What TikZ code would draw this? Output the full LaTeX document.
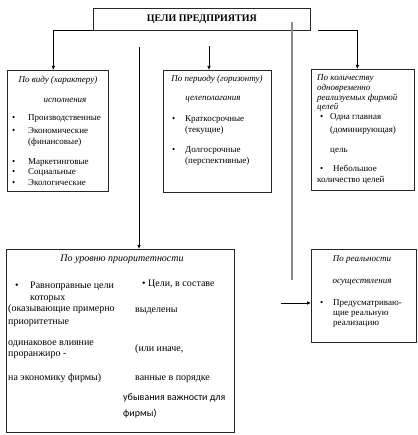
\documentclass[tikz,border=0pt]{standalone}
\usepackage{fontspec}
\setmainfont{Liberation Serif}
\setsansfont{Carlito}
\usetikzlibrary{arrows.meta}

\newcommand{\itembul}[1]{\makebox[#1pt][l]{\textbullet}}

\begin{document}
\begin{tikzpicture}[
    x=1pt, y=-1pt,
    box/.style={
        rectangle, draw=black!85, line width=0.7pt,
        anchor=north west, inner sep=0pt
    },
    head/.style={font=\fontsize{9}{11}\selectfont\itshape, anchor=base, inner sep=0pt},
    txt/.style={font=\fontsize{9}{11}\selectfont, anchor=base west, inner sep=0pt},
    big/.style={font=\fontsize{10}{12}\selectfont, anchor=base west, inner sep=0pt},
    arrow/.style={-{Latex[length=4pt,width=3.5pt]}, line width=0.7pt},
    grayline/.style={draw=black!45, line width=1.4pt}
]
\useasboundingbox (0,0) rectangle (417,435);

% ── Title ──
\node[box, minimum width=217pt, minimum height=22pt,
      font=\fontsize{10}{12}\selectfont\bfseries] (goals) at (93,8) {ЦЕЛИ ПРЕДПРИЯТИЯ};

% ── Boxes ──
\node[box, minimum width=101pt, minimum height=121pt] (vid) at (7,70) {};
\node[box, minimum width=108pt, minimum height=122pt] (period) at (163,70) {};
\node[box, minimum width=103pt, minimum height=121pt] (kolvo) at (311,69) {};
\node[box, minimum width=228pt, minimum height=183pt] (prior) at (6,249) {};
\node[box, minimum width=105pt, minimum height=93pt] (real) at (311,249) {};

% ── По виду ──
\node[head] (vid1) at (58,83) {По виду (характеру)};
\node[head] (vid2) at (65,103) {исполнения};
\node[txt] (vid3) at (12,121) {\itembul{16}Производственные};
\node[txt] (vid4) at (12,134) {\itembul{16}Экономические};
\node[txt] (vid5) at (28,145) {(финансовые)};
\node[txt] (vid6) at (12,165) {\itembul{16}Маркетинговые};
\node[txt] (vid7) at (12,175) {\itembul{16}Социальные};
\node[txt] (vid8) at (12,186) {\itembul{16}Экологические};

% ── По периоду ──
\node[head] (per1) at (217,82) {По периоду (горизонту)};
\node[head] (per2) at (213,101) {целеполагания};
\node[txt] (per3) at (172,122) {\itembul{13}Краткосрочные};
\node[txt] (per4) at (185,133) {(текущие)};
\node[txt] (per5) at (172,153) {\itembul{13}Долгосрочные};
\node[txt] (per6) at (185,164) {(перспективные)};

% ── По количеству ──
\node[head, anchor=base west] (kol1) at (317,80.5) {По количеству};
\node[head, anchor=base west] (kol2) at (317,91) {одновременно};
\node[head, anchor=base west] (kol3) at (317,100.5) {реализуемых фирмой};
\node[head, anchor=base west] (kol4) at (317,110) {целей};
\node[txt] (kol5) at (320,119.5) {\itembul{10}Одна главная};
\node[txt] (kol6) at (330,133) {(доминирующая)};
\node[txt] (kol7) at (330,153) {цель};
\node[txt] (kol8) at (320,172) {\itembul{13}Небольшое};
\node[txt] (kol9) at (317,183) {количество целей};

% ── По уровню приоритетности ──
\node[head, font=\fontsize{10}{12}\selectfont\itshape] (pr1) at (122,261) {По уровню приоритетности};
\node[big] (pr2) at (15,288) {\itembul{15}Равноправные цели};
\node[big] (pr3) at (30,300) {которых};
\node[big] (pr4) at (8,311) {(оказывающие примерно};
\node[big] (pr5) at (8,324) {приоритетные};
\node[big] (pr6) at (8,345) {одинаковое влияние};
\node[big] (pr7) at (8,356) {проранжиро -};
\node[big] (pr8) at (8,380) {на экономику фирмы)};
\node[big] (pr9) at (142,286) {\itembul{6}Цели, в составе};
\node[big] (pr10) at (135,312) {выделены};
\node[big] (pr11) at (135,351) {(или иначе,};
\node[big] (pr12) at (135,380) {ванные в порядке};
\node[big, font=\fontsize{10}{12}\selectfont\sffamily] (pr13) at (123,400) {убывания важности для};
\node[big, font=\fontsize{10}{12}\selectfont\sffamily] (pr14) at (123,416) {фирмы)};

% ── По реальности ──
\node[head] (re1) at (362,261) {По реальности};
\node[head] (re2) at (362,283) {осуществления};
\node[txt] (re3) at (320,305) {\itembul{13}Предусматриваю-};
\node[txt] (re4) at (333,315) {щие реальную};
\node[txt] (re5) at (333,325) {реализацию};

% ── Connectors ──
\coordinate (s2) at (209,46);
\coordinate (s3) at (318,30);
\coordinate (s4) at (139,47);
\coordinate (s5) at (281,303);
\coordinate (g1) at (292,22);
\coordinate (g2) at (292,280);

\draw[arrow] (goals.south west) -| ([xshift=-4.5pt]vid.north);
\draw[arrow] (s2) -- (s2 |- period.north);
\draw[arrow] (s3) -| ([xshift=-5.5pt]kolvo.north);
\draw[arrow] (s4) -- (s4 |- prior.north);
\draw[arrow] (s5) -- (s5 -| real.west);
\draw[grayline] (g1) -- (g2);

\end{tikzpicture}
\end{document}
